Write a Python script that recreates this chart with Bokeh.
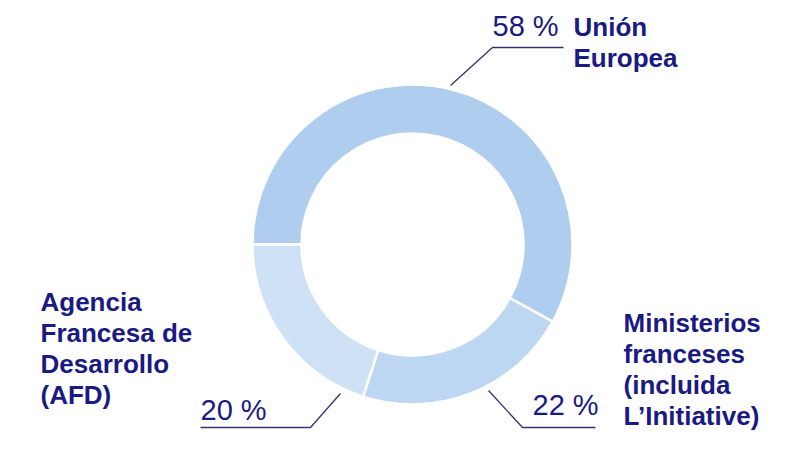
import math
from bokeh.plotting import figure
from bokeh.models import Range1d, ColumnDataSource
from bokeh.core.properties import value
from bokeh.embed import file_html
from bokeh.resources import INLINE

# ---- data ----
categories = ["Unión Europea",
              "Ministerios franceses (incluida L’Initiative)",
              "Agencia Francesa de Desarrollo (AFD)"]
shares = [58, 22, 20]
pct_labels = ["58 %", "22 %", "20 %"]
label_lines = [["Unión", "Europea"],
               ["Ministerios", "franceses", "(incluida", "L’Initiative)"],
               ["Agencia", "Francesa de", "Desarrollo", "(AFD)"]]
colors = ["#afcdee", "#bdd7f2", "#cfe2f5"]

# ---- layout (image pixel coords, converted to plot coords) ----
W, H = 784, 442
def px(X, Y):
    return X, H - Y

TEXT_DY = -11  # renderer places alphabetic baseline lower; compensate

CX, CY = px(412, 244)
R_OUT, R_IN = 160, 111

label_pos = [(573, 37), (623, 333), (40, 312)]      # left x, first baseline
line_step = 31.3
pct_pos = [(492, 36), (532, 415), (200, 420)]       # left x, baseline
leaders = [[(450, 85), (492, 47), (563, 47)],
           [(488, 390), (522, 427), (595, 427)],
           [(340, 393), (310, 427), (200, 427)]]

TEXT_COLOR = "#1a1a82"
LINE_COLOR = "#34346c"
FONT = value("Liberation Sans")

p = figure(width=W, height=H, x_range=Range1d(0, W), y_range=Range1d(0, H),
           output_backend="svg", toolbar_location=None, min_border=0,
           x_axis_location=None, y_axis_location=None)
p.grid.visible = False
p.outline_line_color = None
p.background_fill_color = "white"
p.border_fill_color = "white"

# wedges, clockwise from 9 o'clock
total = float(sum(shares))
starts, ends = [], []
a = math.pi
for s in shares:
    e = a - 2 * math.pi * s / total
    starts.append(a)
    ends.append(e)
    a = e

src = ColumnDataSource(dict(cat=categories, share=shares, start=starts, end=ends, color=colors))
p.annular_wedge(x=CX, y=CY, inner_radius=R_IN, outer_radius=R_OUT,
                start_angle="start", end_angle="end", direction="clock",
                fill_color="color", line_color="white", line_width=2.5, source=src)

# leader lines
for pts in leaders:
    xs = [px(X, Y)[0] for X, Y in pts]
    ys = [px(X, Y)[1] for X, Y in pts]
    p.line(xs, ys, line_color=LINE_COLOR, line_width=1.3)

# category labels
tx, ty, tt = [], [], []
for (lx, ly), lines in zip(label_pos, label_lines):
    for i, t in enumerate(lines):
        x, y = px(lx, ly + i * line_step + TEXT_DY)
        tx.append(x); ty.append(y); tt.append(t)
p.text(x=tx, y=ty, text=tt, text_font=FONT, text_font_style="bold",
       text_font_size="26px", text_color=TEXT_COLOR,
       text_align="left", text_baseline="alphabetic")

# percentage labels
ptx = [px(X, Y)[0] for X, Y in pct_pos]
pty = [px(X, Y + TEXT_DY)[1] for X, Y in pct_pos]
p.text(x=ptx, y=pty, text=pct_labels, text_font=FONT, text_font_style="normal",
       text_font_size="29px", text_color=TEXT_COLOR,
       text_align="left", text_baseline="alphabetic")

open("out.html", "w").write(file_html(p, INLINE))
